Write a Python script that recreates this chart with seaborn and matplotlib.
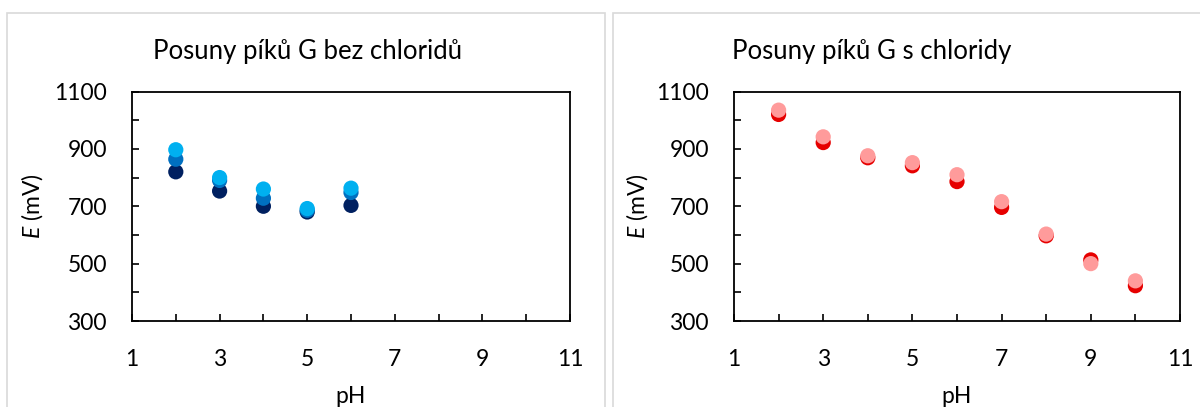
import pandas as pd
import numpy as np
import matplotlib.pyplot as plt
import seaborn as sns
from matplotlib.patches import Rectangle

sns.set_style('white')
plt.rcParams['font.family'] = ['Lato', 'DejaVu Sans']
plt.rcParams['mathtext.fontset'] = 'custom'
plt.rcParams['mathtext.it'] = 'Lato:italic'
plt.rcParams['mathtext.rm'] = 'Lato'
plt.rcParams['text.color'] = 'black'
plt.rcParams['axes.labelcolor'] = 'black'
plt.rcParams['xtick.color'] = 'black'
plt.rcParams['ytick.color'] = 'black'

# left chart - without chlorides (three series)
ph_a = [2, 3, 4, 5, 6]
e_a_dark = [820, 753, 700, 680, 703]
e_a_mid = [864, 790, 728, 686, 748]
e_a_light = [897, 800, 760, 692, 763]

# right chart - with chlorides (two series)
ph_b = [2, 3, 4, 5, 6, 7, 8, 9, 10]
e_b_red = [1020, 922, 869, 841, 786, 696, 597, 513, 423]
e_b_pink = [1035, 942, 876, 852, 810, 716, 603, 500, 440]

titles = ['Posuny píků G bez chloridů', 'Posuny píků G s chloridy']
x_major = [1, 3, 5, 7, 9, 11]
y_major = [300, 500, 700, 900, 1100]

df_a = pd.concat([
    pd.DataFrame({'pH': ph_a, 'E': e_a_dark, 'serie': 'a1'}),
    pd.DataFrame({'pH': ph_a, 'E': e_a_mid, 'serie': 'a2'}),
    pd.DataFrame({'pH': ph_a, 'E': e_a_light, 'serie': 'a3'}),
])
df_b = pd.concat([
    pd.DataFrame({'pH': ph_b, 'E': e_b_red, 'serie': 'b1'}),
    pd.DataFrame({'pH': ph_b, 'E': e_b_pink, 'serie': 'b2'}),
])

fig = plt.figure(figsize=(12, 4.07), dpi=100)
W, H = 1200, 407

def px_axes(x0, x1, y0, y1):
    return fig.add_axes([x0 / W, 1 - y1 / H, (x1 - x0) / W, (y1 - y0) / H])

ax1 = px_axes(132, 570, 91.5, 321)
ax2 = px_axes(734, 1180, 91.5, 321)

sns.scatterplot(data=df_a, x='pH', y='E', hue='serie', ax=ax1, legend=False,
                palette={'a1': '#002060', 'a2': '#0070C0', 'a3': '#00B0F0'},
                s=120, linewidth=0, alpha=1, zorder=3)
sns.scatterplot(data=df_b, x='pH', y='E', hue='serie', ax=ax2, legend=False,
                palette={'b1': '#E60000', 'b2': '#FF9B9B'},
                s=120, linewidth=0, alpha=1, zorder=3)

for ax, ylx in [(ax1, -0.227), (ax2, -0.217)]:
    ax.set_xlim(1, 11)
    ax.set_ylim(300, 1100)
    ax.set_xticks(x_major)
    ax.set_xticks(np.arange(1, 12), minor=True)
    ax.set_yticks(y_major)
    ax.set_yticks(np.arange(300, 1101, 100), minor=True)
    ax.tick_params(which='both', direction='in', length=5, width=1.2, color='black',
                   bottom=True, left=True, top=False, right=False)
    ax.tick_params(axis='x', which='major', pad=20, labelsize=16.5)
    ax.tick_params(axis='y', which='major', pad=18, labelsize=16.5)
    for sp in ax.spines.values():
        sp.set_color('black')
        sp.set_linewidth(1.3)
    ax.set_xlabel('pH', fontsize=16.5)
    ax.set_ylabel(r'$E$ (mV)', fontsize=16.5)
    ax.xaxis.set_label_coords(0.5, -0.33)
    ax.xaxis.label.set_va('center')
    ax.yaxis.set_label_coords(ylx, 0.5)
    ax.yaxis.label.set_va('center')

# chart frames
fig.patches.append(Rectangle((7 / W, -0.05), (605 - 7) / W, 1.05 - 13 / H,
                             transform=fig.transFigure, fill=False,
                             edgecolor='#D9D9D9', linewidth=1.2))
fig.patches.append(Rectangle((613 / W, -0.05), (1210 - 613) / W, 1.05 - 13 / H,
                             transform=fig.transFigure, fill=False,
                             edgecolor='#D9D9D9', linewidth=1.2))

fig.text(308 / W, 1 - 51 / H, titles[0], ha='center', va='center', fontsize=18.5)
fig.text(872 / W, 1 - 51 / H, titles[1], ha='center', va='center', fontsize=18.5)

fig.savefig('out.png', dpi=100)
